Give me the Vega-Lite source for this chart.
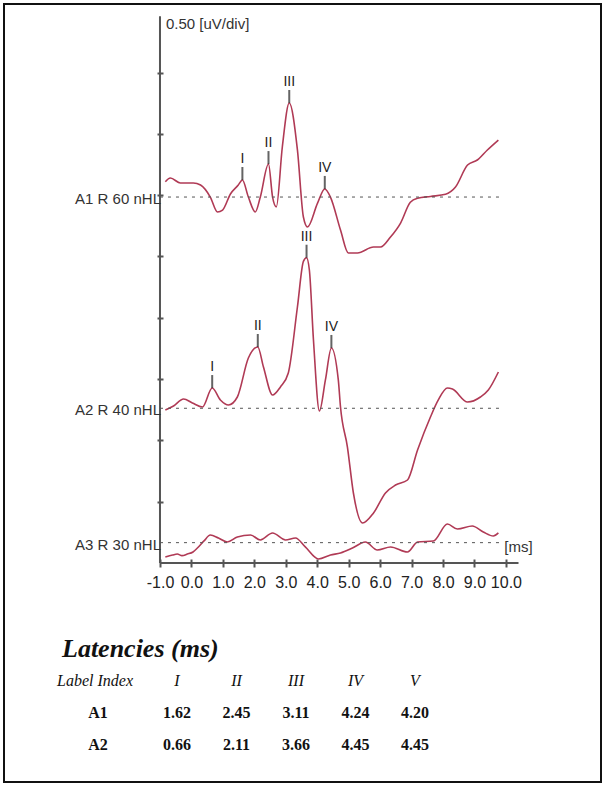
{
  "$schema": "https://vega.github.io/schema/vega-lite/v6.json",
  "width": 597,
  "height": 778,
  "autosize": {"type": "none"},
  "padding": {"left": 4, "top": 4, "right": 4, "bottom": 3},
  "background": "white",
  "config": {
    "view": {"stroke": "#111", "strokeWidth": 2},
    "text": {"font": "Liberation Sans", "color": "#222"}
  },
  "datasets": {
    "traces": [
      {"trace": "A1", "ms": -0.83, "uv": 3.110}, {"trace": "A1", "ms": -0.67, "uv": 3.140}, {"trace": "A1", "ms": -0.35, "uv": 3.100},
      {"trace": "A1", "ms": 0.06, "uv": 3.100}, {"trace": "A1", "ms": 0.29, "uv": 3.083}, {"trace": "A1", "ms": 0.60, "uv": 2.985},
      {"trace": "A1", "ms": 0.83, "uv": 2.863}, {"trace": "A1", "ms": 0.99, "uv": 2.879}, {"trace": "A1", "ms": 1.24, "uv": 3.010},
      {"trace": "A1", "ms": 1.49, "uv": 3.083}, {"trace": "A1", "ms": 1.62, "uv": 3.124}, {"trace": "A1", "ms": 1.81, "uv": 2.985},
      {"trace": "A1", "ms": 2.03, "uv": 2.863}, {"trace": "A1", "ms": 2.19, "uv": 2.985}, {"trace": "A1", "ms": 2.45, "uv": 3.254},
      {"trace": "A1", "ms": 2.58, "uv": 2.985}, {"trace": "A1", "ms": 2.70, "uv": 2.905}, {"trace": "A1", "ms": 2.89, "uv": 3.393},
      {"trace": "A1", "ms": 3.11, "uv": 3.752}, {"trace": "A1", "ms": 3.37, "uv": 3.369}, {"trace": "A1", "ms": 3.56, "uv": 2.822},
      {"trace": "A1", "ms": 3.69, "uv": 2.741}, {"trace": "A1", "ms": 4.01, "uv": 2.936}, {"trace": "A1", "ms": 4.24, "uv": 3.051},
      {"trace": "A1", "ms": 4.42, "uv": 2.985}, {"trace": "A1", "ms": 4.74, "uv": 2.716}, {"trace": "A1", "ms": 4.99, "uv": 2.529},
      {"trace": "A1", "ms": 5.28, "uv": 2.529}, {"trace": "A1", "ms": 5.79, "uv": 2.577}, {"trace": "A1", "ms": 6.01, "uv": 2.577},
      {"trace": "A1", "ms": 6.33, "uv": 2.659}, {"trace": "A1", "ms": 6.65, "uv": 2.773}, {"trace": "A1", "ms": 6.96, "uv": 2.942},
      {"trace": "A1", "ms": 7.19, "uv": 2.975}, {"trace": "A1", "ms": 7.60, "uv": 2.990}, {"trace": "A1", "ms": 8.08, "uv": 3.007},
      {"trace": "A1", "ms": 8.39, "uv": 3.064}, {"trace": "A1", "ms": 8.78, "uv": 3.246}, {"trace": "A1", "ms": 9.09, "uv": 3.287},
      {"trace": "A1", "ms": 9.41, "uv": 3.369}, {"trace": "A1", "ms": 9.76, "uv": 3.450},
      {"trace": "A2", "ms": -0.83, "uv": 1.248}, {"trace": "A2", "ms": -0.57, "uv": 1.281}, {"trace": "A2", "ms": -0.25, "uv": 1.338},
      {"trace": "A2", "ms": 0.03, "uv": 1.305}, {"trace": "A2", "ms": 0.35, "uv": 1.272}, {"trace": "A2", "ms": 0.66, "uv": 1.427},
      {"trace": "A2", "ms": 0.92, "uv": 1.330}, {"trace": "A2", "ms": 1.18, "uv": 1.289}, {"trace": "A2", "ms": 1.46, "uv": 1.354},
      {"trace": "A2", "ms": 1.81, "uv": 1.672}, {"trace": "A2", "ms": 2.11, "uv": 1.762}, {"trace": "A2", "ms": 2.29, "uv": 1.599},
      {"trace": "A2", "ms": 2.58, "uv": 1.370}, {"trace": "A2", "ms": 2.83, "uv": 1.436}, {"trace": "A2", "ms": 3.08, "uv": 1.550},
      {"trace": "A2", "ms": 3.37, "uv": 2.088}, {"trace": "A2", "ms": 3.56, "uv": 2.460}, {"trace": "A2", "ms": 3.66, "uv": 2.490},
      {"trace": "A2", "ms": 3.75, "uv": 2.390}, {"trace": "A2", "ms": 3.88, "uv": 1.819}, {"trace": "A2", "ms": 4.07, "uv": 1.240},
      {"trace": "A2", "ms": 4.26, "uv": 1.493}, {"trace": "A2", "ms": 4.45, "uv": 1.754}, {"trace": "A2", "ms": 4.67, "uv": 1.493},
      {"trace": "A2", "ms": 4.74, "uv": 1.272}, {"trace": "A2", "ms": 4.96, "uv": 0.946}, {"trace": "A2", "ms": 5.15, "uv": 0.571},
      {"trace": "A2", "ms": 5.44, "uv": 0.326}, {"trace": "A2", "ms": 5.79, "uv": 0.408}, {"trace": "A2", "ms": 6.17, "uv": 0.571},
      {"trace": "A2", "ms": 6.49, "uv": 0.636}, {"trace": "A2", "ms": 6.87, "uv": 0.677}, {"trace": "A2", "ms": 7.19, "uv": 0.922},
      {"trace": "A2", "ms": 7.60, "uv": 1.191}, {"trace": "A2", "ms": 7.85, "uv": 1.330}, {"trace": "A2", "ms": 8.14, "uv": 1.427},
      {"trace": "A2", "ms": 8.30, "uv": 1.419}, {"trace": "A2", "ms": 8.78, "uv": 1.313}, {"trace": "A2", "ms": 9.19, "uv": 1.354},
      {"trace": "A2", "ms": 9.44, "uv": 1.411}, {"trace": "A2", "ms": 9.76, "uv": 1.558},
      {"trace": "A3", "ms": -0.83, "uv": 0.049}, {"trace": "A3", "ms": -0.60, "uv": 0.065}, {"trace": "A3", "ms": -0.45, "uv": 0.073},
      {"trace": "A3", "ms": -0.30, "uv": 0.060}, {"trace": "A3", "ms": -0.13, "uv": 0.073}, {"trace": "A3", "ms": 0.05, "uv": 0.090},
      {"trace": "A3", "ms": 0.19, "uv": 0.122}, {"trace": "A3", "ms": 0.40, "uv": 0.180}, {"trace": "A3", "ms": 0.60, "uv": 0.228},
      {"trace": "A3", "ms": 0.86, "uv": 0.204}, {"trace": "A3", "ms": 1.14, "uv": 0.171}, {"trace": "A3", "ms": 1.46, "uv": 0.212},
      {"trace": "A3", "ms": 1.88, "uv": 0.228}, {"trace": "A3", "ms": 2.19, "uv": 0.188}, {"trace": "A3", "ms": 2.58, "uv": 0.245},
      {"trace": "A3", "ms": 2.99, "uv": 0.188}, {"trace": "A3", "ms": 3.31, "uv": 0.204}, {"trace": "A3", "ms": 3.62, "uv": 0.131},
      {"trace": "A3", "ms": 4.04, "uv": 0.033}, {"trace": "A3", "ms": 4.42, "uv": 0.065}, {"trace": "A3", "ms": 4.74, "uv": 0.082},
      {"trace": "A3", "ms": 5.12, "uv": 0.122}, {"trace": "A3", "ms": 5.53, "uv": 0.171}, {"trace": "A3", "ms": 5.91, "uv": 0.106},
      {"trace": "A3", "ms": 6.33, "uv": 0.131}, {"trace": "A3", "ms": 6.87, "uv": 0.090}, {"trace": "A3", "ms": 7.19, "uv": 0.171},
      {"trace": "A3", "ms": 7.69, "uv": 0.179}, {"trace": "A3", "ms": 8.14, "uv": 0.318}, {"trace": "A3", "ms": 8.46, "uv": 0.277},
      {"trace": "A3", "ms": 8.93, "uv": 0.302}, {"trace": "A3", "ms": 9.28, "uv": 0.253}, {"trace": "A3", "ms": 9.60, "uv": 0.220},
      {"trace": "A3", "ms": 9.76, "uv": 0.245}
    ],
    "baselines": [
      {"name": "A1 R 60 nHL", "uv": 2.985},
      {"name": "A2 R 40 nHL", "uv": 1.262},
      {"name": "A3 R 30 nHL", "uv": 0.166}
    ],
    "peaks": [
      {"trace": "A1", "label": "I", "ms": 1.62, "uv": 3.124},
      {"trace": "A1", "label": "II", "ms": 2.45, "uv": 3.254},
      {"trace": "A1", "label": "III", "ms": 3.11, "uv": 3.752},
      {"trace": "A1", "label": "IV", "ms": 4.24, "uv": 3.051},
      {"trace": "A2", "label": "I", "ms": 0.66, "uv": 1.427},
      {"trace": "A2", "label": "II", "ms": 2.11, "uv": 1.762},
      {"trace": "A2", "label": "III", "ms": 3.66, "uv": 2.490},
      {"trace": "A2", "label": "IV", "ms": 4.45, "uv": 1.754}
    ],
    "latencies": [
      {"trace": "A1", "wave": "I", "ms": 1.62}, {"trace": "A1", "wave": "II", "ms": 2.45}, {"trace": "A1", "wave": "III", "ms": 3.11},
      {"trace": "A1", "wave": "IV", "ms": 4.24}, {"trace": "A1", "wave": "V", "ms": 4.20},
      {"trace": "A2", "wave": "I", "ms": 0.66}, {"trace": "A2", "wave": "II", "ms": 2.11}, {"trace": "A2", "wave": "III", "ms": 3.66},
      {"trace": "A2", "wave": "IV", "ms": 4.45}, {"trace": "A2", "wave": "V", "ms": 4.45}
    ],
    "tablelabels": [
      {"row": "title", "col": "Label Index", "text": "Latencies (ms)"},
      {"row": "header", "col": "Label Index", "text": "Label Index"},
      {"row": "header", "col": "I", "text": "I"},
      {"row": "header", "col": "II", "text": "II"},
      {"row": "header", "col": "III", "text": "III"},
      {"row": "header", "col": "IV", "text": "IV"},
      {"row": "header", "col": "V", "text": "V"},
      {"row": "A1", "col": "Label Index", "text": "A1"},
      {"row": "A2", "col": "Label Index", "text": "A2"}
    ]
  },
  "layer": [
    {
      "data": {"name": "traces"},
      "mark": {"type": "line", "color": "#b03a55", "strokeWidth": 1.6, "strokeJoin": "round", "interpolate": "monotone"},
      "encoding": {
        "x": {
          "field": "ms", "type": "quantitative",
          "scale": {"domain": [-5.96, 13.023], "nice": false, "zero": false},
          "axis": {
            "values": [-1, 0, 1, 2, 3, 4, 5, 6, 7, 8, 9, 10],
            "labelExpr": "replace(format(datum.value, '.1f'), '\u2212', '-')",
            "offset": -223, "domain": false, "grid": false,
            "ticks": true, "tickSize": 8, "tickWidth": 2, "tickColor": "#555",
            "labelFont": "Liberation Sans", "labelFontSize": 16, "labelColor": "#222",
            "labelPadding": 7, "labelOverlap": false, "labelFlush": false, "labelBound": false,
            "title": null
          }
        },
        "y": {
          "field": "uv", "type": "quantitative",
          "scale": {"domain": [-1.7863, 4.5595], "nice": false, "zero": false},
          "axis": {
            "values": [0.5, 1, 1.5, 2, 2.5, 3, 3.5, 4],
            "offset": -159, "domain": false, "grid": false, "labels": false,
            "ticks": true, "tickSize": 6, "tickWidth": 2, "tickColor": "#555",
            "title": null
          }
        },
        "detail": {"field": "trace"}
      }
    },
    {
      "data": {"values": [{}]},
      "mark": {"type": "rule", "color": "#555", "strokeWidth": 2},
      "encoding": {
        "x": {"datum": -1, "scale": {"domain": [-5.96, 13.023], "nice": false, "zero": false}, "axis": null},
        "x2": {"datum": 10.4},
        "y": {"datum": 0, "scale": {"domain": [-1.7863, 4.5595], "nice": false, "zero": false}, "axis": null}
      }
    },
    {
      "data": {"values": [{}]},
      "mark": {"type": "rule", "color": "#555", "strokeWidth": 2},
      "encoding": {
        "x": {"datum": -1, "scale": {"domain": [-5.96, 13.023], "nice": false, "zero": false}, "axis": null},
        "y": {"datum": 0, "scale": {"domain": [-1.7863, 4.5595], "nice": false, "zero": false}, "axis": null},
        "y2": {"datum": 4.46}
      }
    },
    {
      "data": {"name": "baselines"},
      "mark": {"type": "rule", "color": "#555", "strokeWidth": 1, "strokeDash": [3, 5]},
      "encoding": {
        "x": {"datum": -1, "scale": {"domain": [-5.96, 13.023], "nice": false, "zero": false}, "axis": null},
        "x2": {"datum": 9.83},
        "y": {"field": "uv", "type": "quantitative", "scale": {"domain": [-1.7863, 4.5595], "nice": false, "zero": false}, "axis": null}
      }
    },
    {
      "data": {"name": "baselines"},
      "mark": {"type": "text", "align": "right", "baseline": "middle", "dx": 1, "dy": 2, "fontSize": 15, "color": "#333"},
      "encoding": {
        "x": {"datum": -1, "scale": {"domain": [-5.96, 13.023], "nice": false, "zero": false}, "axis": null},
        "y": {"field": "uv", "type": "quantitative", "scale": {"domain": [-1.7863, 4.5595], "nice": false, "zero": false}, "axis": null},
        "text": {"field": "name"}
      }
    },
    {
      "data": {"name": "peaks"},
      "mark": {"type": "tick", "orient": "vertical", "size": 13, "thickness": 2, "color": "#222", "yOffset": -6.5},
      "encoding": {
        "x": {"field": "ms", "type": "quantitative", "scale": {"domain": [-5.96, 13.023], "nice": false, "zero": false}, "axis": null},
        "y": {"field": "uv", "type": "quantitative", "scale": {"domain": [-1.7863, 4.5595], "nice": false, "zero": false}, "axis": null}
      }
    },
    {
      "data": {"name": "peaks"},
      "mark": {"type": "text", "align": "center", "baseline": "bottom", "dy": -14, "fontSize": 14, "color": "#222"},
      "encoding": {
        "x": {"field": "ms", "type": "quantitative", "scale": {"domain": [-5.96, 13.023], "nice": false, "zero": false}, "axis": null},
        "y": {"field": "uv", "type": "quantitative", "scale": {"domain": [-1.7863, 4.5595], "nice": false, "zero": false}, "axis": null},
        "text": {"field": "label"}
      }
    },
    {
      "data": {"values": [{}]},
      "mark": {"type": "text", "align": "left", "baseline": "middle", "dx": 6, "fontSize": 15, "color": "#333"},
      "encoding": {
        "x": {"datum": -1, "scale": {"domain": [-5.96, 13.023], "nice": false, "zero": false}, "axis": null},
        "y": {"datum": 4.40, "scale": {"domain": [-1.7863, 4.5595], "nice": false, "zero": false}, "axis": null},
        "text": {"value": "0.50 [uV/div]"}
      }
    },
    {
      "data": {"values": [{}]},
      "mark": {"type": "text", "align": "left", "baseline": "middle", "fontSize": 15, "color": "#333"},
      "encoding": {
        "x": {"datum": 9.95, "scale": {"domain": [-5.96, 13.023], "nice": false, "zero": false}, "axis": null},
        "y": {"datum": 0.13, "scale": {"domain": [-1.7863, 4.5595], "nice": false, "zero": false}, "axis": null},
        "text": {"value": "[ms]"}
      }
    },
    {
      "data": {"name": "tablelabels"},
      "transform": [{"filter": "datum.row == 'title'"}],
      "mark": {"type": "text", "align": "left", "baseline": "middle", "dx": -55.5, "font": "Liberation Serif", "fontSize": 26, "fontStyle": "italic", "fontWeight": "bold", "color": "#111"},
      "encoding": {
        "x": {"field": "col", "type": "nominal", "scale": {"type": "point", "domain": ["Label Index", "I", "II", "III", "IV", "V"], "range": [113.5, 411], "padding": 0}, "axis": null},
        "y": {"field": "row", "type": "nominal", "scale": {"type": "point", "domain": ["title", "header", "A1", "A2"], "range": [645.3, 740.7], "padding": 0}, "axis": null},
        "text": {"field": "text"}
      }
    },
    {
      "data": {"name": "tablelabels"},
      "transform": [{"filter": "datum.row == 'header' && datum.col == 'Label Index'"}],
      "mark": {"type": "text", "align": "left", "baseline": "middle", "dx": -60.5, "font": "Liberation Serif", "fontSize": 16, "fontStyle": "italic", "color": "#111"},
      "encoding": {
        "x": {"field": "col", "type": "nominal", "scale": {"type": "point", "domain": ["Label Index", "I", "II", "III", "IV", "V"], "range": [113.5, 411], "padding": 0}, "axis": null},
        "y": {"field": "row", "type": "nominal", "scale": {"type": "point", "domain": ["title", "header", "A1", "A2"], "range": [645.3, 740.7], "padding": 0}, "axis": null},
        "text": {"field": "text"}
      }
    },
    {
      "data": {"name": "tablelabels"},
      "transform": [{"filter": "datum.row == 'header' && datum.col != 'Label Index'"}],
      "mark": {"type": "text", "align": "center", "baseline": "middle", "font": "Liberation Serif", "fontSize": 16, "fontStyle": "italic", "color": "#111"},
      "encoding": {
        "x": {"field": "col", "type": "nominal", "scale": {"type": "point", "domain": ["Label Index", "I", "II", "III", "IV", "V"], "range": [113.5, 411], "padding": 0}, "axis": null},
        "y": {"field": "row", "type": "nominal", "scale": {"type": "point", "domain": ["title", "header", "A1", "A2"], "range": [645.3, 740.7], "padding": 0}, "axis": null},
        "text": {"field": "text"}
      }
    },
    {
      "data": {"name": "tablelabels"},
      "transform": [{"filter": "(datum.row == 'A1' || datum.row == 'A2') && datum.col == 'Label Index'"}],
      "mark": {"type": "text", "align": "center", "baseline": "middle", "dx": -19.5, "font": "Liberation Serif", "fontSize": 16, "fontWeight": "bold", "color": "#111"},
      "encoding": {
        "x": {"field": "col", "type": "nominal", "scale": {"type": "point", "domain": ["Label Index", "I", "II", "III", "IV", "V"], "range": [113.5, 411], "padding": 0}, "axis": null},
        "y": {"field": "row", "type": "nominal", "scale": {"type": "point", "domain": ["title", "header", "A1", "A2"], "range": [645.3, 740.7], "padding": 0}, "axis": null},
        "text": {"field": "text"}
      }
    },
    {
      "data": {"name": "latencies"},
      "mark": {"type": "text", "align": "center", "baseline": "middle", "font": "Liberation Serif", "fontSize": 16, "fontWeight": "bold", "color": "#111"},
      "encoding": {
        "x": {"field": "wave", "type": "nominal", "scale": {"type": "point", "domain": ["Label Index", "I", "II", "III", "IV", "V"], "range": [113.5, 411], "padding": 0}, "axis": null},
        "y": {"field": "trace", "type": "nominal", "scale": {"type": "point", "domain": ["title", "header", "A1", "A2"], "range": [645.3, 740.7], "padding": 0}, "axis": null},
        "text": {"field": "ms", "type": "quantitative", "format": ".2f"}
      }
    }
  ],
  "resolve": {"scale": {"x": "independent", "y": "independent"}}
}
